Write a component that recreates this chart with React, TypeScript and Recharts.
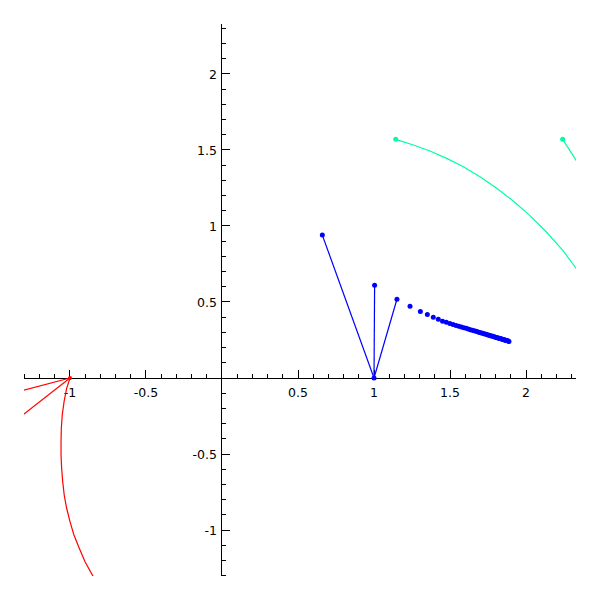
import React from 'react';
import { ScatterChart, Scatter, XAxis, YAxis, ReferenceLine } from 'recharts';

const X_DOMAIN: [number, number] = [-1.3026, 2.3289];
const Y_DOMAIN: [number, number] = [-1.3026, 2.3289];

// axis ticks
const xMajorTicks = [-1, -0.5, 0.5, 1, 1.5, 2];
const xMajorLabels = ['-1', '-0.5', '0.5', '1', '1.5', '2'];
const xMinorTicks = [-1.3, -1.2, -1.1, -0.9, -0.8, -0.7, -0.6, -0.4, -0.3, -0.2, -0.1, 0.1, 0.2, 0.3, 0.4, 0.6, 0.7, 0.8, 0.9, 1.1, 1.2, 1.3, 1.4, 1.6, 1.7, 1.8, 1.9, 2.1, 2.2, 2.3];
const yMajorTicks = [-1, -0.5, 0.5, 1, 1.5, 2];
const yMajorLabels = ['-1', '-0.5', '0.5', '1', '1.5', '2'];
const yMinorTicks = [-1.3, -1.2, -1.1, -0.9, -0.8, -0.7, -0.6, -0.4, -0.3, -0.2, -0.1, 0.1, 0.2, 0.3, 0.4, 0.6, 0.7, 0.8, 0.9, 1.1, 1.2, 1.3, 1.4, 1.6, 1.7, 1.8, 1.9, 2.1, 2.2, 2.3];

// blue series
const blueHub = [{ x: 1, y: 0 }];
const blueSpokeA = [{ x: 1, y: 0 }, { x: 0.66, y: 0.94 }];
const blueSpokeB = [{ x: 1, y: 0 }, { x: 1.004, y: 0.61 }];
const blueSpokeC = [{ x: 1, y: 0 }, { x: 1.151, y: 0.518 }];
const blueX = [0.66, 1.004, 1.151, 1.237, 1.305, 1.351, 1.39, 1.423, 1.451, 1.476, 1.499, 1.52, 1.54, 1.558, 1.575, 1.591, 1.606, 1.62, 1.634, 1.647, 1.659, 1.671, 1.682, 1.693, 1.703, 1.713, 1.723, 1.732, 1.741, 1.75, 1.758, 1.766, 1.774, 1.782, 1.789, 1.796, 1.803, 1.81, 1.817, 1.823, 1.829, 1.835, 1.841, 1.847, 1.853, 1.858, 1.863, 1.868, 1.873, 1.878, 1.883, 1.888];
const blueY = [0.94, 0.61, 0.518, 0.472, 0.438, 0.417, 0.399, 0.386, 0.373, 0.366, 0.359, 0.352, 0.346, 0.341, 0.336, 0.331, 0.327, 0.322, 0.318, 0.314, 0.311, 0.307, 0.304, 0.3, 0.297, 0.294, 0.291, 0.289, 0.286, 0.283, 0.281, 0.278, 0.276, 0.274, 0.272, 0.269, 0.267, 0.265, 0.263, 0.261, 0.26, 0.258, 0.256, 0.254, 0.252, 0.251, 0.249, 0.248, 0.246, 0.245, 0.243, 0.24];

// red series
const redHub = [{ x: -1, y: 0 }];
const redSpoke1 = [{ x: -1, y: 0 }, { x: -1.5, y: -0.131 }];
const redSpoke2 = [{ x: -1, y: 0 }, { x: -1.5, y: -0.391 }];
const redCurveX = [-1, -1.022, -1.039, -1.051, -1.057, -1.059, -1.059, -1.055, -1.048, -1.038, -1.022, -1.0, -0.974, -0.939, -0.901, -0.847, -0.82];
const redCurveY = [0, -0.068, -0.156, -0.243, -0.331, -0.419, -0.507, -0.594, -0.682, -0.77, -0.857, -0.945, -1.033, -1.12, -1.209, -1.307, -1.345];

// cyan series
const cyanDots = [{ x: 1.143, y: 1.57 }, { x: 2.241, y: 1.57 }];
const cyanCurveX = [1.143, 1.259, 1.368, 1.478, 1.588, 1.697, 1.807, 1.916, 2.026, 2.136, 2.245, 2.329, 2.4];
const cyanCurveY = [1.57, 1.533, 1.493, 1.445, 1.39, 1.324, 1.248, 1.164, 1.068, 0.959, 0.836, 0.722, 0.62];
const cyanSpoke = [{ x: 2.241, y: 1.57 }, { x: 2.4, y: 1.324 }];

const BLUE = '#0000ff';
const RED = '#ff0000';
const CYAN = '#00ffa0';
const FONT = 'DejaVu Sans, sans-serif';
const FONT_SIZE = 12.5;

const zip = (xs: number[], ys: number[]) => xs.map((x, i) => ({ x, y: ys[i] }));

const blueDots = zip(blueX, blueY);
const redCurve = zip(redCurveX, redCurveY);
const cyanCurve = zip(cyanCurveX, cyanCurveY);

const xTickData = [
  ...xMinorTicks.map((v) => ({ x: v, y: 0, major: false, label: '' })),
  ...xMajorTicks.map((v, i) => ({ x: v, y: 0, major: true, label: xMajorLabels[i] })),
];
const yTickData = [
  ...yMinorTicks.map((v) => ({ x: 0, y: v, major: false, label: '' })),
  ...yMajorTicks.map((v, i) => ({ x: 0, y: v, major: true, label: yMajorLabels[i] })),
];

const XTick = (props: any) => {
  const { cx, cy, payload } = props;
  const len = payload.major ? 8 : 4;
  return (
    <g>
      <line x1={cx} y1={cy} x2={cx} y2={cy - len} stroke="#000" strokeWidth={1} shapeRendering="crispEdges" />
      {payload.label ? (
        <text x={cx} y={cy + 18.5} textAnchor="middle" fontSize={FONT_SIZE} fontFamily={FONT} fill="#000">
          {payload.label}
        </text>
      ) : null}
    </g>
  );
};

const YTick = (props: any) => {
  const { cx, cy, payload } = props;
  const len = payload.major ? 8 : 4;
  return (
    <g>
      <line x1={cx} y1={cy} x2={cx + len} y2={cy} stroke="#000" strokeWidth={1} shapeRendering="crispEdges" />
      {payload.label ? (
        <text x={cx - 5} y={cy + 4.6} textAnchor="end" fontSize={FONT_SIZE} fontFamily={FONT} fill="#000">
          {payload.label}
        </text>
      ) : null}
    </g>
  );
};

const dot = (color: string, r: number) => (props: any) => (
  <circle cx={props.cx} cy={props.cy} r={r} fill={color} />
);
const none = () => <g />;

const lineStyle = (color: string) => ({ stroke: color, strokeWidth: 1.2, fill: 'none', strokeLinejoin: 'round' as const });

export default function App() {
  return (
    <div style={{ position: 'absolute', left: 0, top: 0, width: 600, height: 600, background: '#fff' }}>
      <ScatterChart width={600} height={600} margin={{ top: 24, right: 24, bottom: 24, left: 24 }}>
        <XAxis type="number" dataKey="x" domain={X_DOMAIN} allowDataOverflow hide />
        <YAxis type="number" dataKey="y" domain={Y_DOMAIN} allowDataOverflow hide />
        <ReferenceLine x={0} stroke="#000" strokeWidth={1} shapeRendering="crispEdges" />
        <ReferenceLine y={0} stroke="#000" strokeWidth={1} shapeRendering="crispEdges" />
        <Scatter data={xTickData} shape={XTick} isAnimationActive={false} />
        <Scatter data={yTickData} shape={YTick} isAnimationActive={false} />

        <Scatter data={redSpoke1} line={lineStyle(RED)} shape={none} isAnimationActive={false} />
        <Scatter data={redSpoke2} line={lineStyle(RED)} shape={none} isAnimationActive={false} />
        <Scatter data={redCurve} line={lineStyle(RED)} shape={none} isAnimationActive={false} />
        <Scatter data={redHub} shape={dot(RED, 2)} isAnimationActive={false} />

        <Scatter data={cyanCurve} line={lineStyle(CYAN)} shape={none} isAnimationActive={false} />
        <Scatter data={cyanSpoke} line={lineStyle(CYAN)} shape={none} isAnimationActive={false} />
        <Scatter data={cyanDots} shape={dot(CYAN, 2.5)} isAnimationActive={false} />

        <Scatter data={blueSpokeA} line={lineStyle(BLUE)} shape={none} isAnimationActive={false} />
        <Scatter data={blueSpokeB} line={lineStyle(BLUE)} shape={none} isAnimationActive={false} />
        <Scatter data={blueSpokeC} line={lineStyle(BLUE)} shape={none} isAnimationActive={false} />
        <Scatter data={blueHub} shape={dot(BLUE, 2.5)} isAnimationActive={false} />
        <Scatter data={blueDots} shape={dot(BLUE, 2.5)} isAnimationActive={false} />
      </ScatterChart>
    </div>
  );
}
